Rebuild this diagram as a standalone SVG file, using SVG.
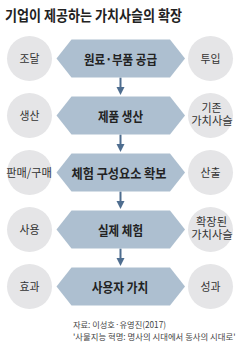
<svg xmlns="http://www.w3.org/2000/svg" width="240" height="348" viewBox="0 0 240 348">
<style>
text{font-family:"Noto Sans CJK KR","Noto Sans",sans-serif;fill:#222}
.title{font-size:15px;font-weight:bold}
.hex{fill:#adbfd0}
.hl{font-size:13px;font-weight:bold;text-anchor:middle}
.circ{fill:#e5e5e7}
.cl{font-size:11.5px;text-anchor:middle;fill:#333}
.cl2{font-size:11px;text-anchor:middle;fill:#333}
.src{font-size:8.5px;fill:#444}
.arr{stroke:#4e6d8f;stroke-width:2;fill:none}
.ah{fill:#4e6d8f}
</style>
<rect width="240" height="348" fill="#fff"/>
<text class="title" x="5" y="21" textLength="177" lengthAdjust="spacingAndGlyphs">기업이 제공하는 가치사슬의 확장</text>

<g id="connectors">
<line class="arr" x1="120.5" y1="77.5" x2="120.5" y2="87"/>
<polygon class="ah" points="116.5,87 124.5,87 120.5,95"/>
<line class="arr" x1="120.5" y1="134.5" x2="120.5" y2="144"/>
<polygon class="ah" points="116.5,144 124.5,144 120.5,152"/>
<line class="arr" x1="120.5" y1="191.5" x2="120.5" y2="201"/>
<polygon class="ah" points="116.5,201 124.5,201 120.5,209"/>
<line class="arr" x1="120.5" y1="248.5" x2="120.5" y2="258"/>
<polygon class="ah" points="116.5,258 124.5,258 120.5,266"/>
</g>

<g id="step1">
<polygon class="hex" points="56.5,58.5 71.5,39.5 170,39.5 185,58.5 170,77.5 71.5,77.5"/>
<text class="hl" x="120.5" y="63.5" textLength="73" lengthAdjust="spacingAndGlyphs">원료·부품 공급</text>
</g>
<g id="left1"><circle class="circ" cx="29.5" cy="58.5" r="22.5"/><text class="cl" x="29.5" y="62.5" textLength="20" lengthAdjust="spacingAndGlyphs">조달</text></g>
<g id="right1"><circle class="circ" cx="210.5" cy="58.5" r="22.5"/><text class="cl" x="210.5" y="62.5" textLength="20" lengthAdjust="spacingAndGlyphs">투입</text></g>

<g id="step2">
<polygon class="hex" points="56.5,115.5 71.5,96.5 170,96.5 185,115.5 170,134.5 71.5,134.5"/>
<text class="hl" x="120.5" y="120.5" textLength="45" lengthAdjust="spacingAndGlyphs">제품 생산</text>
</g>
<g id="left2"><circle class="circ" cx="29.5" cy="115.5" r="22.5"/><text class="cl" x="29.5" y="119.5" textLength="20" lengthAdjust="spacingAndGlyphs">생산</text></g>
<g id="right2"><circle class="circ" cx="210.5" cy="115.5" r="22.5"/><text class="cl2" x="211.5" y="111.5" textLength="20" lengthAdjust="spacingAndGlyphs">기존</text><text class="cl2" x="212" y="125" textLength="41.5" lengthAdjust="spacingAndGlyphs">가치사슬</text></g>

<g id="step3">
<polygon class="hex" points="56.5,172.5 71.5,153.5 170,153.5 185,172.5 170,191.5 71.5,191.5"/>
<text class="hl" x="119" y="177.5" textLength="95" lengthAdjust="spacingAndGlyphs">체험 구성요소 확보</text>
</g>
<g id="left3"><circle class="circ" cx="29.5" cy="172.5" r="22.5"/><text class="cl" x="29" y="176.5" textLength="45.5" lengthAdjust="spacingAndGlyphs">판매/구매</text></g>
<g id="right3"><circle class="circ" cx="210.5" cy="172.5" r="22.5"/><text class="cl" x="210.5" y="176.5" textLength="20" lengthAdjust="spacingAndGlyphs">산출</text></g>

<g id="step4">
<polygon class="hex" points="56.5,229.5 71.5,210.5 170,210.5 185,229.5 170,248.5 71.5,248.5"/>
<text class="hl" x="120.5" y="234.5" textLength="45" lengthAdjust="spacingAndGlyphs">실제 체험</text>
</g>
<g id="left4"><circle class="circ" cx="29.5" cy="229.5" r="22.5"/><text class="cl" x="29.5" y="233.5" textLength="20" lengthAdjust="spacingAndGlyphs">사용</text></g>
<g id="right4"><circle class="circ" cx="210.5" cy="229.5" r="22.5"/><text class="cl2" x="211.5" y="225.5" textLength="31" lengthAdjust="spacingAndGlyphs">확장된</text><text class="cl2" x="212" y="239" textLength="41.5" lengthAdjust="spacingAndGlyphs">가치사슬</text></g>

<g id="step5">
<polygon class="hex" points="56.5,286.5 71.5,267.5 170,267.5 185,286.5 170,305.5 71.5,305.5"/>
<text class="hl" x="120" y="291.5" textLength="56.5" lengthAdjust="spacingAndGlyphs">사용자 가치</text>
</g>
<g id="left5"><circle class="circ" cx="29.5" cy="286.5" r="22.5"/><text class="cl" x="29.5" y="290.5" textLength="20" lengthAdjust="spacingAndGlyphs">효과</text></g>
<g id="right5"><circle class="circ" cx="210.5" cy="286.5" r="22.5"/><text class="cl" x="210.5" y="290.5" textLength="20" lengthAdjust="spacingAndGlyphs">성과</text></g>

<text class="src" x="73" y="327.5" textLength="93" lengthAdjust="spacingAndGlyphs">자료: 이성호·유영진(2017)</text>
<text class="src" x="73" y="339.5" textLength="162.5" lengthAdjust="spacingAndGlyphs">'사물지능 혁명: 명사의 시대에서 동사의 시대로'</text>
</svg>
